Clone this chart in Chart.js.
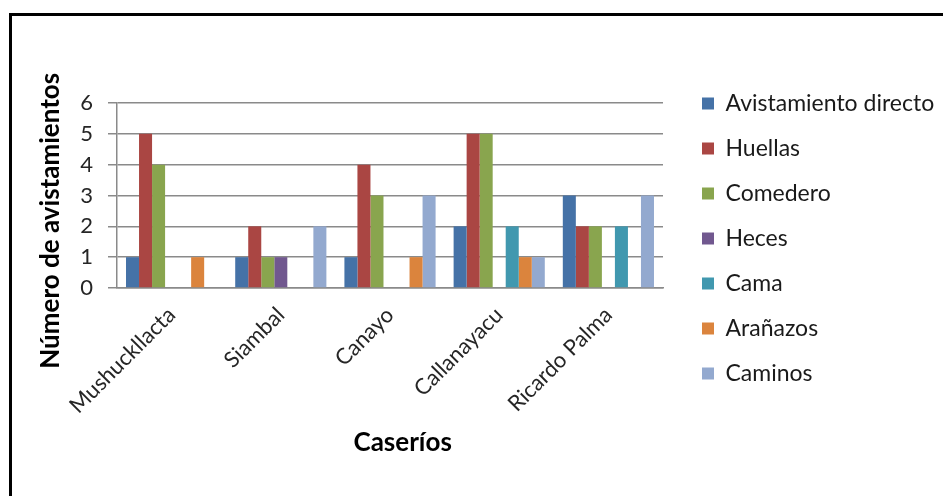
<!DOCTYPE html>
<html>
<head>
<meta charset="utf-8">
<script src="https://cdn.jsdelivr.net/npm/chart.js"></script>
<style>
  html, body { margin: 0; padding: 0; background: #fff; }
  body { position: relative; width: 943px; height: 496px; overflow: hidden; }
  #frame { position: absolute; left: 9px; top: 13px; width: 1000px; height: 600px;
           border-top: 3px solid #000; border-left: 3px solid #000; }
  #myChart { position: absolute; left: 0; top: 0; }
</style>
</head>
<body>
<div id="frame"></div>
<canvas id="myChart" width="943" height="496"></canvas>
<script>
// categories (caseríos)
const caserios = ['Mushuckllacta', 'Siambal', 'Canayo', 'Callanayacu', 'Ricardo Palma'];

// series values
const avistamientoDirecto = [1, 1, 1, 2, 3];
const huellas = [5, 2, 4, 5, 2];
const comedero = [4, 1, 3, 5, 2];
const heces = [0, 1, 0, 0, 0];
const cama = [0, 0, 0, 2, 2];
const aranazos = [1, 0, 1, 1, 0];
const caminos = [0, 2, 3, 1, 3];

// y axis
const yMin = 0;
const yMax = 6;
const yStep = 1;

const FONT = 'Lato, "Open Sans", sans-serif';

const datasets = [
  { label: 'Avistamiento directo', data: avistamientoDirecto, backgroundColor: '#4572A7' },
  { label: 'Huellas', data: huellas, backgroundColor: '#AA4643' },
  { label: 'Comedero', data: comedero, backgroundColor: '#89A54E' },
  { label: 'Heces', data: heces, backgroundColor: '#71588F' },
  { label: 'Cama', data: cama, backgroundColor: '#4198AF' },
  { label: 'Arañazos', data: aranazos, backgroundColor: '#DB843D' },
  { label: 'Caminos', data: caminos, backgroundColor: '#93A9CF' }
];

const ctx = document.getElementById('myChart').getContext('2d');
const chart = new Chart(ctx, {
  type: 'bar',
  data: { labels: caserios, datasets: datasets },
  options: {
    responsive: false,
    animation: false,
    layout: { padding: { top: 70, left: 20, right: 0, bottom: 20 } },
    datasets: {
      bar: { categoryPercentage: 0.835, barPercentage: 1.0, borderWidth: 0 }
    },
    plugins: {
      tooltip: { enabled: false },
      // empty spacer above the plot only (legend keeps full height)
      title: { display: true, text: '', fullSize: false, padding: 0,
               font: { size: 33, lineHeight: 1 } },
      legend: {
        position: 'right',
        align: 'start',
        maxWidth: 263,
        labels: {
          boxWidth: 12, boxHeight: 12, padding: 22,
          color: '#1a1a1a',
          font: { family: FONT, size: 23 }
        }
      }
    },
    scales: {
      x: {
        grid: { display: false, drawTicks: false },
        border: { display: true, color: '#8a8a8a', width: 1.5 },
        ticks: { color: '#262626', font: { family: FONT, size: 22 },
                 minRotation: 45, maxRotation: 45, padding: 14 },
        title: { display: true, text: '    Caseríos', color: '#000',
                 font: { family: FONT, size: 26, weight: 'bold', lineHeight: 1.2 },
                 padding: { top: 0, bottom: 18 } },
        afterFit: (s) => { s.height = 188; }
      },
      y: {
        min: yMin, max: yMax,
        grid: { color: '#8a8a8a', lineWidth: 1.5, drawTicks: true, tickLength: 9 },
        border: { display: true, color: '#8a8a8a', width: 1.5 },
        ticks: { stepSize: yStep, color: '#262626', padding: 15,
                 font: { family: FONT, size: 22 } },
        title: { display: true, text: 'Número de avistamientos        ', color: '#000',
                 font: { family: FONT, size: 26, weight: 'bold', lineHeight: 1.2 },
                 padding: { top: 15, bottom: 0 } },
        afterFit: (s) => { s.width = 97; }
      },
      y2: {
        position: 'right',
        grid: { display: false, drawTicks: false },
        border: { display: false },
        ticks: { display: false },
        afterFit: (s) => { s.width = 17; }
      }
    }
  }
});
</script>
</body>
</html>
